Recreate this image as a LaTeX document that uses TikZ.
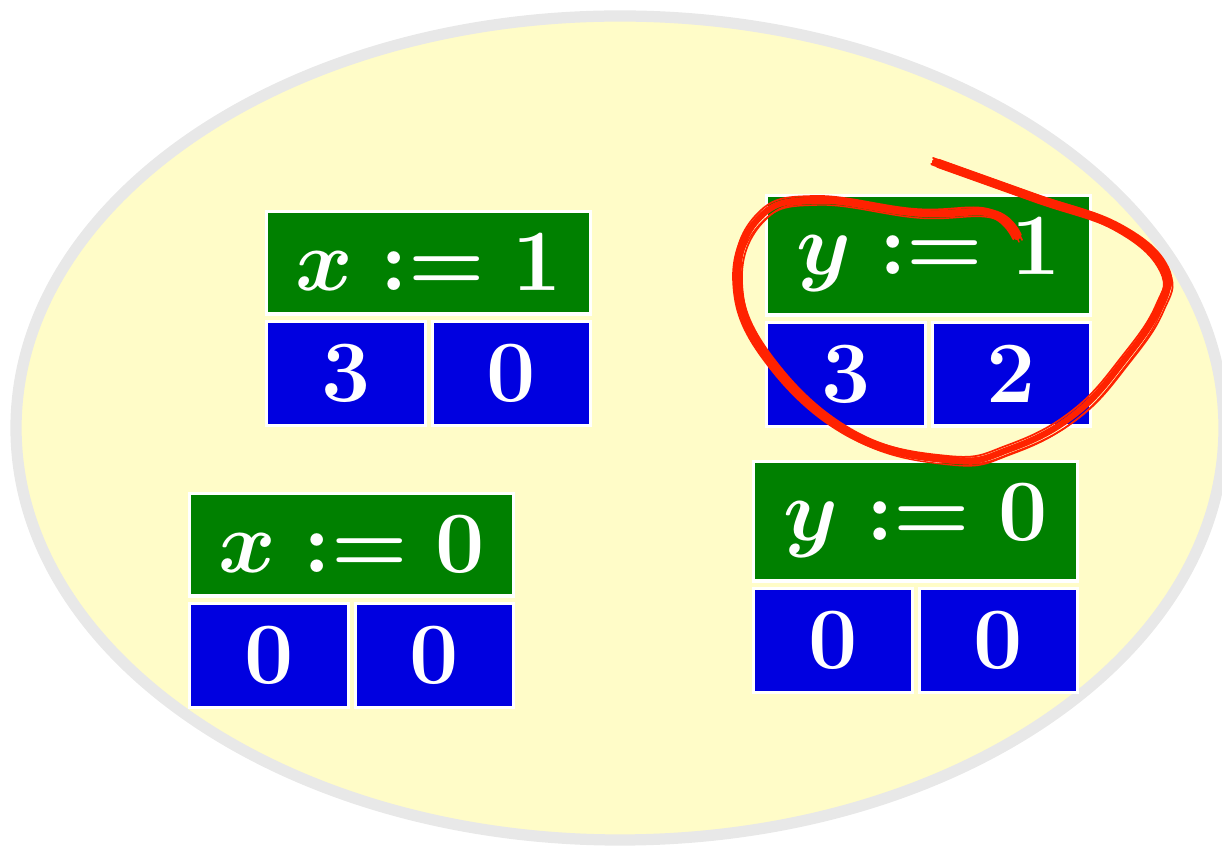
\documentclass[tikz,border=0pt]{standalone}
\usepackage{amsmath,amssymb}
\usepackage{tikz}
\usepackage{xcolor}
\usetikzlibrary{positioning,calc}
\definecolor{cG}{HTML}{008000}
\definecolor{cB}{HTML}{0000E0}
\definecolor{cR}{HTML}{FF2200}
\definecolor{cY}{HTML}{FFFCC8}
\definecolor{cL}{HTML}{E8E8E8}
\tikzset{
  head/.style={rectangle,draw=white,line width=0.9pt,fill=cG,text=white,
               font=\Huge\boldmath,minimum width=3.24cm,inner xsep=2pt,inner ysep=0.23cm},
  cell/.style={rectangle,draw=white,line width=0.9pt,fill=cB,text=white,
               font=\Huge\bfseries,minimum width=1.585cm,inner xsep=2pt,inner ysep=0.23cm},
  blob/.style={draw=cL,line width=3.2pt,fill=cY},
  scribble/.style={cR,line cap=round,line join=round},
}
\begin{document}
\begin{tikzpicture}
  \useasboundingbox (0,0) rectangle (12.22,8.49);
  \draw[blob] (6.20,4.21) ellipse [x radius=6.04cm,y radius=4.12cm];
  % x := 1
  \node[head,anchor=north west] (h1) at (2.65,6.39) {$x := 1$};
  \node[cell,below=0.04cm of h1.south west,anchor=north west] (a1) {3};
  \node[cell,right=0.04cm of a1] (b1) {0};
  % y := 1
  \node[head,anchor=north west] (h2) at (7.65,6.55) {$y := 1$};
  \node[cell,below=0.04cm of h2.south west,anchor=north west] (a2) {3};
  \node[cell,right=0.04cm of a2] (b2) {2};
  % x := 0
  \node[head,anchor=north west] (h3) at (1.88,3.57) {$x := 0$};
  \node[cell,below=0.04cm of h3.south west,anchor=north west] (a3) {0};
  \node[cell,right=0.04cm of a3] (b3) {0};
  % y := 0
  \node[head,anchor=north west] (h4) at (7.52,3.89) {$y := 0$};
  \node[cell,below=0.04cm of h4.south west,anchor=north west] (a4) {0};
  \node[cell,right=0.04cm of a4] (b4) {0};
  % red loop round y := 1
  \foreach \dx/\dy/\w in {0/0/1.8pt,0.035/0.02/0.7pt,-0.035/-0.02/0.7pt,
                          0.05/-0.03/0.5pt,-0.02/0.04/0.5pt,0.02/-0.05/0.4pt}
    \draw[scribble,line width=\w,shift={(\dx,\dy)}] plot[smooth,tension=0.7] coordinates {
      (9.35,6.87) (10.33,6.52) (11.17,6.22) (11.64,5.80) (11.58,5.40)
      (11.25,4.90) (10.75,4.35) (10.10,4.00) (9.50,3.89) (8.50,4.16) (7.67,4.92)
      (7.37,5.69) (7.60,6.32) (8.17,6.49) (9.17,6.36) (9.90,6.36) (10.17,6.12)};
\end{tikzpicture}
\end{document}
